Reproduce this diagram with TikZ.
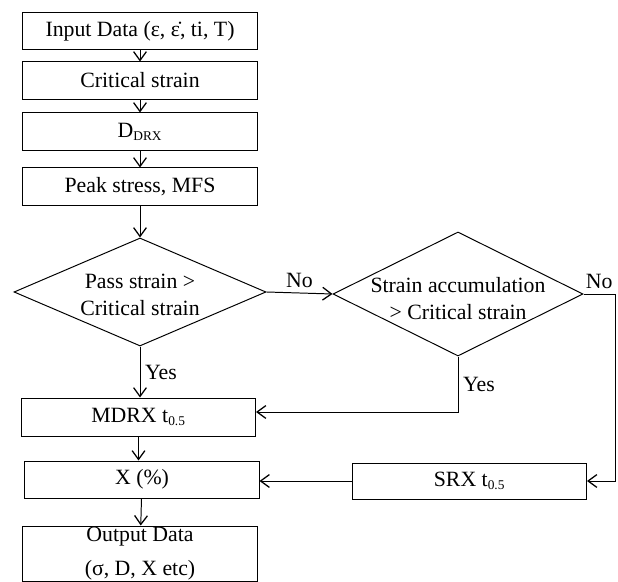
\documentclass[tikz,border=0pt]{standalone}
\usepackage{fontspec}
\setmainfont{Liberation Serif}
\usetikzlibrary{arrows.meta, positioning, shapes.geometric}
\newcommand{\smallsub}[1]{\textsubscript{\fontsize{9.5}{9.5}\selectfont #1}}
\tikzset{
  procbox/.style={draw, line width=0.7pt, minimum width=5.85cm,
                  minimum height=0.925cm, inner sep=1pt, align=center},
  decbox/.style={draw, diamond, line width=0.7pt, inner sep=0pt},
  arr/.style={-{Straight Barb[length=2.2mm,width=3.2mm,line width=0.9pt]}, line width=0.7pt},
}
\begin{document}
\begin{tikzpicture}[x=0.025cm, y=-0.025cm, every node/.style={font=\fontsize{15.5}{19}\selectfont}]
    \useasboundingbox (0,0) rectangle (618,582);

    \node[procbox] (inp) at (140,31) {Input Data (ε, \.{ε}, ti, T)};
    \node[procbox] (crit) at (140,80.5) {Critical strain};
    \node[procbox] (ddrx) at (140,131.5) {D\smallsub{DRX}};
    \node[procbox] (peak) at (140,186.5) {Peak stress, MFS};

    \node[decbox, minimum width=6.3cm, minimum height=2.7cm,
          label={[align=center, yshift=-0.08cm]center:{Pass strain >\\Critical strain}}] (pass) at (140,292) {};
    \node[decbox, minimum width=6.25cm, minimum height=3.1cm,
          label={[align=center, yshift=-0.12cm]center:{Strain accumulation\\> Critical strain}}] (accum) at (458,294) {};

    \node[procbox, minimum height=0.95cm] (mdrx) at (138.5,417) {MDRX t\smallsub{0.5}};
    \node[procbox] (xpct) at (142,479.5) {X (\%)};
    \node[procbox, minimum height=0.9cm] (srx) at (469.5,481) {SRX t\smallsub{0.5}};
    \node[procbox, minimum height=1.375cm, inner sep=0.5pt] (outp) at (140,553.5) {Output Data\\[5pt](σ, D, X etc)};
    \coordinate (rturn) at (615,294);

    \draw[arr] (inp) -- (crit);
    \draw[arr] (crit) -- (ddrx);
    \draw[arr] (ddrx) -- (peak);
    \draw[arr] (peak) -- (pass.north);
    \draw[arr] (pass.east) -- node[above] {No} (accum.west);
    \draw[arr] (pass.south) -- node[right] {Yes} (pass.south |- mdrx.north);
    \draw[arr] (accum.south) |- node[right, pos=0.25] {Yes} ([yshift=1.25mm]mdrx.east);
    \draw[arr] (accum.east) -- node[above] {No} (rturn) |- (srx.east);
    \draw[arr] (srx.west) -- (srx.west -| xpct.east);
    \draw[arr] (mdrx.south) -- (mdrx.south |- xpct.north);
    \draw[arr] (xpct) -- (outp);
  \end{tikzpicture}
\end{document}
